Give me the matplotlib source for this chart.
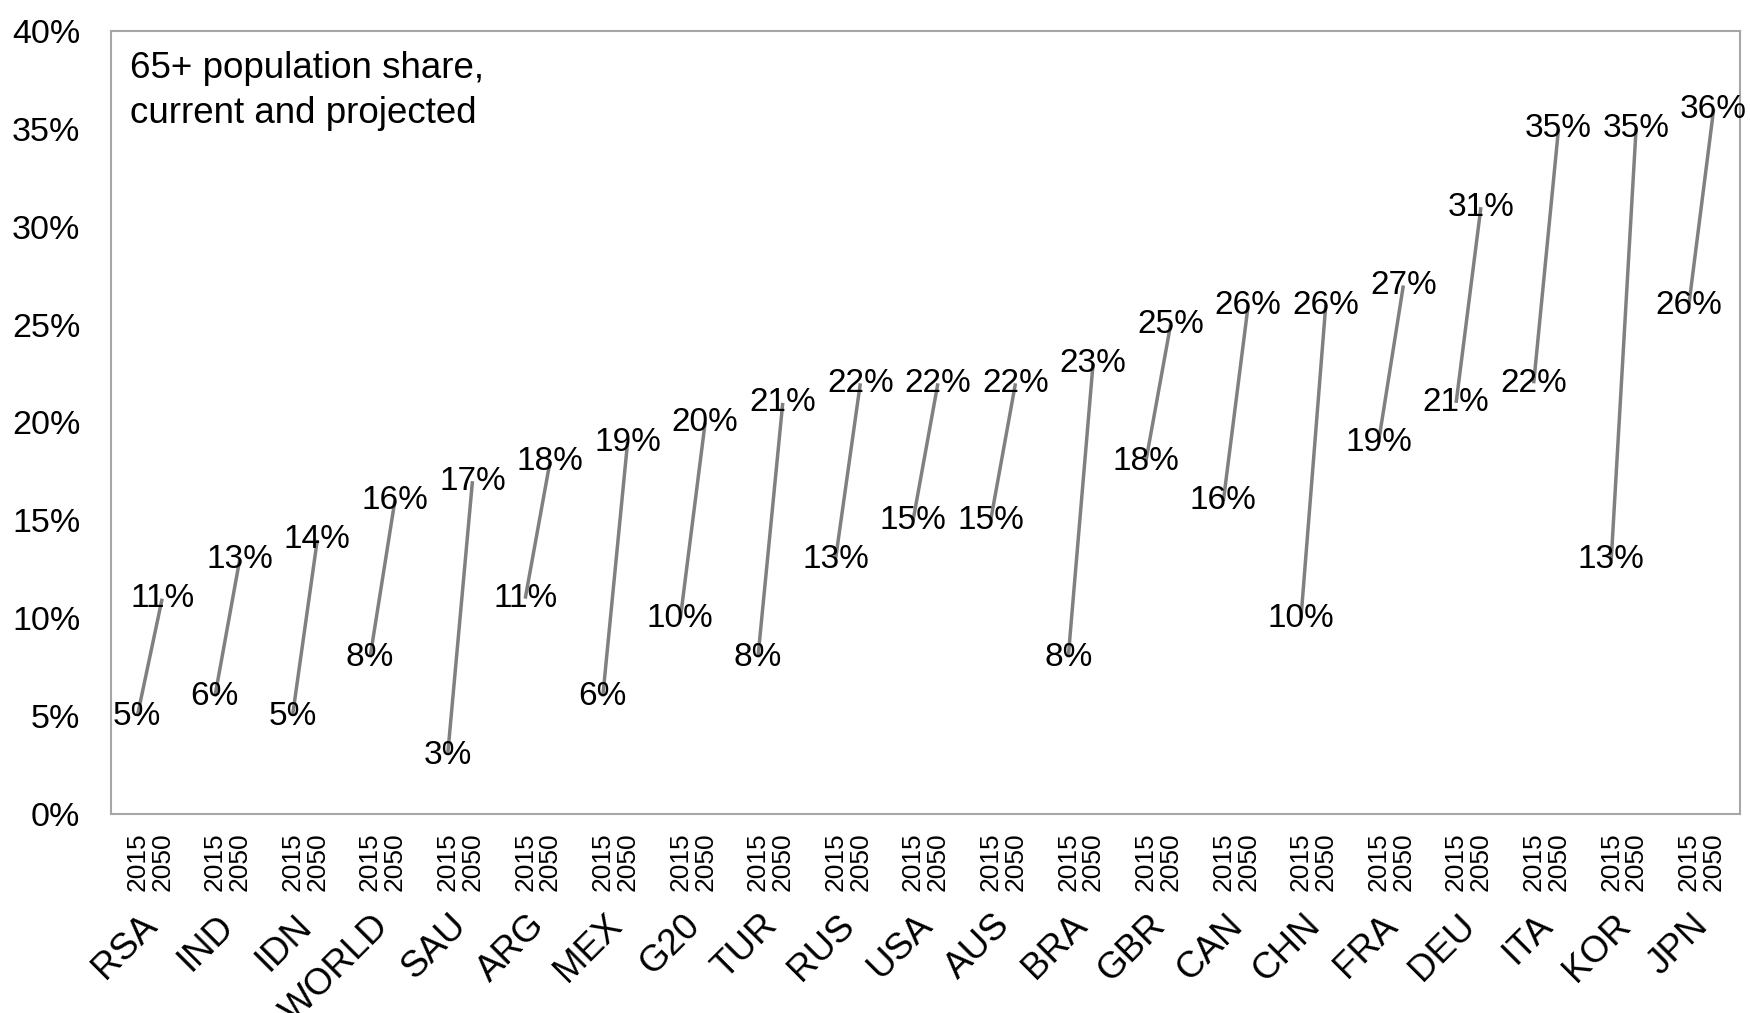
import matplotlib.pyplot as plt
from matplotlib.ticker import FuncFormatter, MultipleLocator
import matplotlib.transforms as mtransforms

plt.rcParams["font.family"] = ["Liberation Sans", "DejaVu Sans"]

countries = ["RSA", "IND", "IDN", "WORLD", "SAU", "ARG", "MEX", "G20", "TUR", "RUS",
             "USA", "AUS", "BRA", "GBR", "CAN", "CHN", "FRA", "DEU", "ITA", "KOR", "JPN"]
share_2015 = [5, 6, 5, 8, 3, 11, 6, 10, 8, 13, 15, 15, 8, 18, 16, 10, 19, 21, 22, 13, 26]
share_2050 = [11, 13, 14, 16, 17, 18, 19, 20, 21, 22, 22, 22, 23, 25, 26, 26, 27, 31, 35, 35, 36]
years = ["2015", "2050"]

LINE_GREY = "#808080"
FRAME_GREY = "#a6a6a6"
OFFSET = 0.16  # half the gap between the two years inside one country slot

fig = plt.figure(figsize=(17.5, 10.13), dpi=100)
ax = fig.add_axes([0.0634, 0.1965, 0.9309, 0.7729])

xticks, xlabels = [], []
for i, (name, a, b) in enumerate(zip(countries, share_2015, share_2050)):
    x0 = i + 0.5 - OFFSET
    x1 = i + 0.5 + OFFSET
    ax.plot([x0, x1], [a, b], color=LINE_GREY, lw=2.5, solid_capstyle="butt", zorder=2)
    ax.text(x0, a, f"{a}%", ha="center", va="center", fontsize=24, zorder=3)
    ax.text(x1, b, f"{b}%", ha="center", va="center", fontsize=24, zorder=3)
    xticks += [x0, x1]
    xlabels += years

ax.set_xlim(0, len(countries))
ax.set_ylim(0, 40)
ax.yaxis.set_major_locator(MultipleLocator(5))
ax.yaxis.set_major_formatter(FuncFormatter(lambda v, _: f"{v:.0f}%"))
ax.tick_params(axis="y", length=0, pad=22, labelsize=24.5)

ax.set_xticks(xticks)
ax.set_xticklabels(xlabels, rotation=90, fontsize=19)
ax.tick_params(axis="x", length=0, pad=13)

# country names sit below the year labels, slanted
trans = mtransforms.blended_transform_factory(ax.transData, ax.transAxes)
for i, name in enumerate(countries):
    ax.text(i + 0.5 - 0.14, -0.12, name, transform=trans, rotation=45,
            rotation_mode="anchor", ha="right", va="top", fontsize=26.5)

for spine in ax.spines.values():
    spine.set_color(FRAME_GREY)
    spine.set_linewidth(1.5)

ax.text(0.012, 0.975, "65+ population share,\ncurrent and projected",
        transform=ax.transAxes, ha="left", va="top", fontsize=26.5, linespacing=1.4)

fig.savefig("out.png", dpi=100)
